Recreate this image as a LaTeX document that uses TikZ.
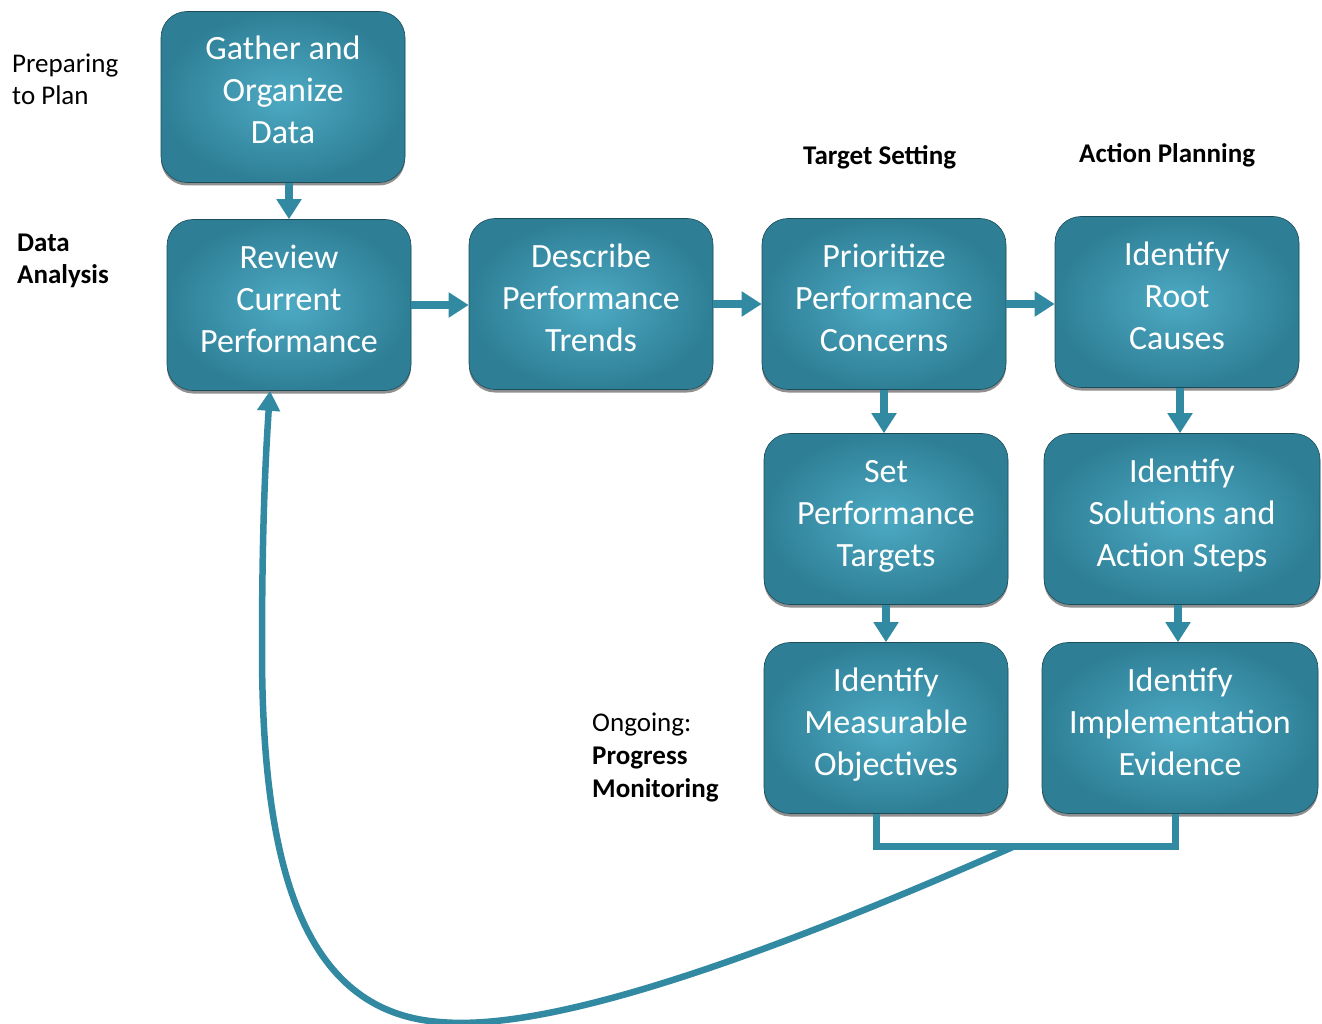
\documentclass[tikz,border=0pt]{standalone}
\usepackage{fontspec}
\setmainfont{Carlito}
\usetikzlibrary{shadows,arrows.meta}
\definecolor{tealA}{HTML}{4DAAC3}
\definecolor{tealB}{HTML}{2E7F96}
\definecolor{tealL}{HTML}{3289A2}
\begin{document}
\begin{tikzpicture}[x=1pt,y=-1pt,
 box/.style={rectangle, rounded corners=26pt, minimum width=244pt, minimum height=171pt,
   inner color=tealA, outer color=tealB, text=white,
   font=\fontsize{34}{42}\selectfont, align=center,
   text height=110pt, text depth=16pt,
   drop shadow={shadow xshift=0pt, shadow yshift=-3pt, opacity=0.55, fill=black!80},
   draw=tealB!60!black, line width=0.6pt},
 flow/.style={draw=tealL, line width=8pt, -{Triangle[length=20pt,width=24pt]}},
 lbl/.style={anchor=north west, inner sep=0pt, align=left, font=\fontsize{27}{32}\selectfont},
 blbl/.style={lbl, font=\fontsize{27}{32}\selectfont\bfseries},
]
\useasboundingbox (0,0) rectangle (1322,1024);

\node[box] (g) at (283,97) {Gather and\\Organize\\Data};
\node[box] (r) at (289,305) {Review\\Current\\Performance};
\node[box] (d) at (591,304) {Describe\\Performance\\Trends};
\node[box] (p) at (884,304) {Prioritize\\Performance\\Concerns};
\node[box] (rc) at (1177,302) {Identify\\Root\\Causes};
\node[box] (s) at (886,519) {Set\\Performance\\Targets};
\node[box, minimum width=276pt] (sol) at (1182,519) {Identify\\Solutions and\\Action Steps};
\node[box] (m) at (886,728) {Identify\\Measurable\\Objectives};
\node[box, minimum width=276pt] (im) at (1180,728) {Identify\\Implementation\\Evidence};

\node[lbl] (prep) at (12,54) {Preparing\\to Plan};
\node[blbl] (da) at (17,234) {Data\\Analysis};
\node[blbl] (ts) at (803,145) {Target Setting};
\node[blbl] (ap) at (1079,143) {Action Planning};
\node[lbl, font=\fontsize{27}{33}\selectfont] (og) at (592,713) {Ongoing:\\\textbf{Progress}\\\textbf{Monitoring}};

\draw[flow] (r.north |- g.south) -- (r.north);
\draw[flow] (r.east) -- (r.east -| d.west);
\draw[flow] (d.east) -- (d.east -| p.west);
\draw[flow] (p.east) -- (p.east -| rc.west);
\draw[flow] (p.south) -- (p.south |- s.north);
\draw[flow] ([xshift=3pt]rc.south) -- ([xshift=3pt]rc.south |- sol.north);
\draw[flow] (s.south) -- (s.south |- m.north);
\draw[flow] ([xshift=-4pt]sol.south) -- ([xshift=-4pt]sol.south |- im.north);

\coordinate (bl) at (876,846);
\coordinate (br) at (1175,846);
\coordinate (cs) at (1015,846);
\draw[tealL, line width=7pt, line join=miter] (bl |- m.south) -- (bl) -- (br) -- (br |- im.south);
\draw[draw=tealL, line width=6.5pt, -{Triangle[length=20pt,width=22pt]}]
  (cs) .. controls (700,985) and (530,1030) .. (440,1022)
  .. controls (300,1012) and (262,860) .. (262,650)
  .. controls (262,520) and (266,450) .. ([xshift=-19pt]r.south);
\end{tikzpicture}
\end{document}
